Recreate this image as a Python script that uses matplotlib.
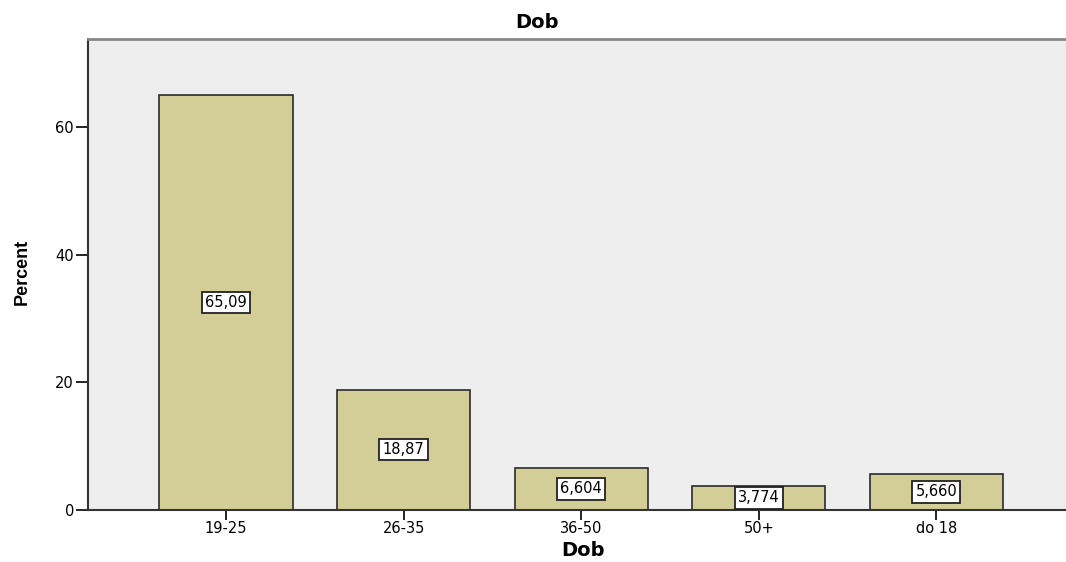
import matplotlib
matplotlib.use('Agg')
import matplotlib.pyplot as plt

plt.rcParams['font.family'] = ['DejaVu Sans']

# data
categories = ['19-25', '26-35', '36-50', '50+', 'do 18']
percents = [65.09, 18.87, 6.604, 3.774, 5.660]
labels = ['65,09', '18,87', '6,604', '3,774', '5,660']

fig = plt.figure(figsize=(10.66, 5.62), dpi=100)
ax = fig.add_axes([88 / 1066, 1 - 510 / 562, 1 - 88 / 1066, (510 - 39) / 562])
ax.set_facecolor('#eeeeee')

x = range(len(categories))
ax.bar(x, percents, width=0.75, color='#d3ce97', edgecolor='#2b2b2b', linewidth=1.2)

for i, (v, t) in enumerate(zip(percents, labels)):
    ax.text(i, v / 2, t, ha='center', va='center', fontsize=10.5,
            bbox=dict(boxstyle='square,pad=0.22', facecolor='white', edgecolor='#222222', linewidth=1.3))

ax.set_xlim(-0.777, 4.73)
ax.set_ylim(0, 73.8)
ax.set_xticks(list(x))
ax.set_xticklabels(categories, fontsize=10.5)
ax.set_yticks([0, 20, 40, 60])
ax.tick_params(axis='y', direction='out', length=9, width=1.2, labelsize=10.5, pad=1)
ax.tick_params(axis='x', direction='out', length=7, width=1.2, labelsize=10.5, pad=1)

ax.spines['left'].set_color('#333333')
ax.spines['left'].set_linewidth(1.5)
ax.spines['bottom'].set_color('#333333')
ax.spines['bottom'].set_linewidth(1.5)
ax.spines['top'].set_color('#888888')
ax.spines['top'].set_linewidth(2)
ax.spines['right'].set_visible(False)

fig.text(537 / 1066, 1 - 23 / 562, 'Dob', ha='center', va='center', fontsize=14, fontweight='bold')
fig.text(583 / 1066, 1 - 551 / 562, 'Dob', ha='center', va='center', fontsize=14, fontweight='bold')
fig.text(22 / 1066, 1 - 272 / 562, 'Percent', ha='center', va='center', fontsize=13,
         fontweight='bold', rotation=90, family='Liberation Sans')

fig.savefig('out.png', dpi=100)
